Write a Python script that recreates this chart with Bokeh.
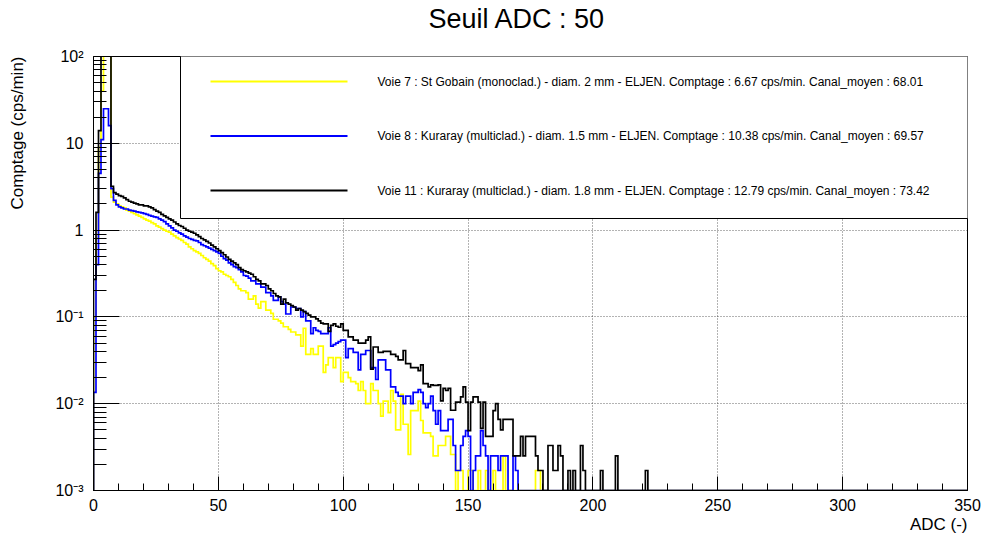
import math
from bokeh.plotting import figure
from bokeh.models import (FixedTicker, SingleIntervalTicker, CustomJSTickFormatter,
                          Label, BoxAnnotation, Range1d, Title)
from bokeh.embed import file_html
from bokeh.resources import INLINE

TITLE = "Seuil ADC : 50"
X_LABEL = "ADC (-)"
Y_LABEL = "Comptage (cps/min)"
X_RANGE = (0, 350)
Y_RANGE = (1e-3, 1e2)
BIN_WIDTH = 1
X_TICK_STEP = 50
Y_TICKS = [1e-3, 1e-2, 1e-1, 1, 10, 100]
Y_TICK_LABELS = ["10⁻³", "10⁻²", "10⁻¹", "1", "10", "10²"]

SERIES_NAMES = [
    "Voie 7 : St Gobain (monoclad.) - diam. 2 mm - ELJEN. Comptage : 6.67 cps/min. Canal_moyen : 68.01",
    "Voie 8 : Kuraray (multiclad.) - diam. 1.5 mm - ELJEN. Comptage : 10.38 cps/min. Canal_moyen : 69.57",
    "Voie 11 : Kuraray (multiclad.) - diam. 1.8 mm - ELJEN. Comptage : 12.79 cps/min. Canal_moyen : 73.42",
]
SERIES_COLORS = ["#ffff00", "#0000ff", "#000000"]

# counts per 1-ADC bin (cps/min), bins starting at ADC 0
voie7 = [
    0.1, 0.8, 9, 40, 300, 300, 150, 2.4, 2.1, 2.0,
    1.9, 1.85, 1.8, 1.7, 1.65, 1.6, 1.55, 1.5, 1.45, 1.4,
    1.35, 1.3, 1.27, 1.22, 1.18, 1.12, 1.08, 1.04, 1.0, 0.97,
    0.95, 0.9, 0.86, 0.82, 0.79, 0.76, 0.72, 0.69, 0.64, 0.61,
    0.58, 0.56, 0.54, 0.51, 0.48, 0.46, 0.44, 0.41, 0.39, 0.36,
    0.34, 0.33, 0.31, 0.30, 0.29, 0.27, 0.25, 0.23, 0.21, 0.2,
    0.20, 0.19, 0.16, 0.16, 0.175, 0.14, 0.126, 0.15, 0.15, 0.12,
    0.12, 0.11, 0.094, 0.094, 0.09, 0.085, 0.077, 0.077, 0.072, 0.067,
    0.067, 0.062, 0.062, 0.046, 0.074, 0.037, 0.037, 0.043, 0.037, 0.037,
    0.046, 0.046, 0.023, 0.028, 0.034, 0.034, 0.026, 0.034, 0.034, 0.018,
    0.023, 0.023, 0.02, 0.018, 0.018, 0.017, 0.0142, 0.018, 0.0142, 0.01,
    0.01, 0.017, 0.0142, 0.0142, 0.01, 0.0072, 0.0107, 0.0107, 0.0079, 0.0142,
    0.0107, 0.005, 0.005, 0.0128, 0.0058, 0.0058, 0.0026, 0.0083, 0.0083, 0.0083,
    0.0107, 0.0064, 0.0046, 0.0046, 0.0046, 0.0042, 0.0025, 0.0025, 0.0033, 0.0033,
    0.0033, 0.0042, 0.0042, 0.0026, 0.0026, 0, 0.0017, 0.0017, 0, 0,
    0.0017, 0.0017, 0, 0, 0.0017, 0, 0, 0.0017, 0, 0,
    0.0017, 0, 0, 0, 0.0025, 0, 0, 0, 0, 0,
    0, 0, 0, 0, 0, 0, 0, 0.0017, 0.0017, 0,
]

voie8 = [
    0.0135, 0.4, 4.5, 11, 25, 25, 16, 3.0, 2.2, 1.95,
    1.85, 1.8, 1.75, 1.75, 1.7, 1.68, 1.65, 1.62, 1.6, 1.58,
    1.55, 1.52, 1.48, 1.45, 1.42, 1.4, 1.35, 1.3, 1.25, 1.18,
    1.12, 1.06, 1.0, 0.97, 0.93, 0.9, 0.86, 0.83, 0.8, 0.78,
    0.76, 0.75, 0.72, 0.68, 0.66, 0.64, 0.62, 0.6, 0.58, 0.56,
    0.54, 0.50, 0.47, 0.45, 0.42, 0.40, 0.38, 0.37, 0.35, 0.33,
    0.30, 0.295, 0.28, 0.26, 0.26, 0.24, 0.24, 0.22, 0.22, 0.19,
    0.19, 0.175, 0.155, 0.155, 0.17, 0.15, 0.14, 0.108, 0.108, 0.13,
    0.13, 0.125, 0.125, 0.10, 0.115, 0.09, 0.09, 0.064, 0.075, 0.07,
    0.068, 0.064, 0.064, 0.064, 0.075, 0.046, 0.048, 0.050, 0.052, 0.054,
    0.054, 0.034, 0.043, 0.043, 0.039, 0.039, 0.0245, 0.037, 0.037, 0.041,
    0.041, 0.026, 0.026, 0.019, 0.032, 0.032, 0.032, 0.0245, 0.0245, 0.0156,
    0.0156, 0.0135, 0.0122, 0.0122, 0.010, 0.0122, 0.0122, 0.010, 0.0135, 0.0135,
    0.0145, 0.0135, 0.010, 0.009, 0.010, 0.0122, 0.0083, 0.0058, 0.0083, 0.0049,
    0.0049, 0.0049, 0.0066, 0.0066, 0.0033, 0.0017, 0.0017, 0.0033, 0.0042, 0.0049,
    0.0042, 0, 0.0017, 0.0025, 0.0025, 0.0049, 0.0033, 0.0025, 0, 0.0025,
    0.0025, 0.0025, 0.0017, 0.0025, 0.0025, 0.0025, 0, 0, 0.0025, 0.0017,
]

voie11 = [
    0.27, 1.6, 14, 160, 260, 230, 130, 3.2, 2.7, 2.6,
    2.5, 2.45, 2.35, 2.25, 2.15, 2.1, 2.05, 2.0, 1.95, 1.95,
    1.9, 1.9, 1.85, 1.8, 1.72, 1.65, 1.6, 1.52, 1.46, 1.4,
    1.35, 1.3, 1.24, 1.18, 1.13, 1.1, 1.05, 1.0, 0.97, 0.95,
    0.92, 0.88, 0.84, 0.8, 0.77, 0.74, 0.71, 0.67, 0.64, 0.61,
    0.58, 0.55, 0.52, 0.49, 0.46, 0.44, 0.42, 0.40, 0.37, 0.35,
    0.34, 0.33, 0.32, 0.31, 0.29, 0.27, 0.26, 0.24, 0.24, 0.23,
    0.21, 0.20, 0.186, 0.175, 0.17, 0.14, 0.16, 0.145, 0.14, 0.135,
    0.13, 0.12, 0.125, 0.12, 0.115, 0.11, 0.105, 0.10, 0.10, 0.095,
    0.09, 0.085, 0.083, 0.083, 0.068, 0.08, 0.083, 0.078, 0.076, 0.083,
    0.070, 0.070, 0.059, 0.059, 0.054, 0.054, 0.050, 0.050, 0.050, 0.054,
    0.059, 0.025, 0.045, 0.045, 0.039, 0.039, 0.040, 0.040, 0.040, 0.037,
    0.037, 0.035, 0.032, 0.032, 0.041, 0.029, 0.029, 0.026, 0.026, 0.026,
    0.024, 0.028, 0.017, 0.017, 0.0156, 0.0165, 0.0163, 0.0163, 0.0165, 0.0108,
    0.015, 0.0142, 0.015, 0.0084, 0.0084, 0.0104, 0.0104, 0.012, 0.0156, 0.0104,
    0.0049, 0.0104, 0.012, 0.012, 0.0104, 0.0052, 0.0104, 0.0042, 0.0042, 0.0042,
    0.0083, 0.01, 0.0066, 0.005, 0.0066, 0.0066, 0.0066, 0.0066, 0.0025, 0.0025,
    0.0025, 0.0042, 0.0025, 0.0042, 0.0042, 0.0042, 0.0042, 0.0025, 0.0017, 0.0017,
    0, 0, 0.0033, 0.0033, 0.0017, 0.0017, 0.0033, 0.0025, 0, 0,
    0.0017, 0, 0.0017, 0, 0, 0.0033, 0.0017, 0, 0, 0,
    0, 0, 0, 0.0017, 0, 0, 0, 0, 0, 0.0025,
    0, 0, 0, 0, 0, 0, 0, 0, 0, 0,
    0, 0.0017, 0, 0, 0,
]

SERIES = [voie7, voie8, voie11]

FONT = "Liberation Sans"

p = figure(width=984, height=536, title=None,
           x_range=Range1d(*X_RANGE), y_range=Range1d(*Y_RANGE),
           y_axis_type="log", output_backend="svg", toolbar_location=None,
           min_border_left=93, min_border_right=17, min_border_top=56, min_border_bottom=46)
p.background_fill_color = "white"
p.border_fill_color = "white"
p.outline_line_color = "black"
p.outline_line_width = 1


def text_title(text, size, align, offset=0, standoff=0, valign="middle"):
    return Title(text=text, text_font=FONT, text_font_size=size, text_font_style="normal",
                 text_color="black", align=align, offset=offset, standoff=standoff,
                 vertical_align=valign)


# top: spacer next to the frame, then the title
p.add_layout(text_title(" ", "10px", "left", standoff=9), "above")
p.add_layout(text_title(TITLE, "27px", "left", offset=335), "above")
# left: spacer next to the axis, then the y title
p.add_layout(text_title(" ", "10px", "right", standoff=12), "left")
p.add_layout(text_title(Y_LABEL, "17px", "right"), "left")
# bottom: x title under the tick labels
p.add_layout(text_title(X_LABEL, "17px", "right"), "below")


def step_path(vals):
    floor = Y_RANGE[0]
    xs, ys = [X_RANGE[0]], [floor]
    for i, v in enumerate(vals):
        y = v if v > floor else floor
        xs += [i * BIN_WIDTH, (i + 1) * BIN_WIDTH]
        ys += [y, y]
    xs += [len(vals) * BIN_WIDTH, X_RANGE[1]]
    ys += [floor, floor]
    return xs, ys


for vals, col in zip(SERIES, SERIES_COLORS):
    xs, ys = step_path(vals)
    p.line(xs, ys, line_color=col, line_width=1.7, line_join="miter")

# axes
xt = SingleIntervalTicker(interval=X_TICK_STEP, num_minor_ticks=5)
p.xaxis.ticker = xt
p.xgrid.ticker = xt
y_minor = [m * 10.0 ** k for k in range(int(math.log10(Y_RANGE[0])), int(math.log10(Y_RANGE[1]))) for m in range(2, 10)]
yt = FixedTicker(ticks=Y_TICKS, minor_ticks=y_minor)
p.yaxis.ticker = yt
p.ygrid.ticker = FixedTicker(ticks=Y_TICKS)
p.yaxis.formatter = CustomJSTickFormatter(args=dict(tick_vals=Y_TICKS, tick_labels=Y_TICK_LABELS), code="""
let out = "";
for (let k = 0; k < tick_vals.length; k++) {
  if (Math.abs(Math.log10(tick_vals[k]) - Math.log10(tick)) < 1e-6) { out = tick_labels[k]; }
}
return out;
""")

for ax in (p.xaxis[0], p.yaxis[0]):
    ax.axis_line_color = "black"
    ax.major_tick_line_color = "black"
    ax.minor_tick_line_color = "black"
    ax.major_tick_out = 0
    ax.minor_tick_out = 0
    ax.major_label_text_font = FONT
    ax.major_label_text_font_size = "16px"
    ax.major_label_text_color = "black"
p.xaxis.major_tick_in = 14
p.xaxis.minor_tick_in = 7
p.xaxis.major_label_standoff = 8
p.yaxis.major_tick_in = 26
p.yaxis.minor_tick_in = 13
p.yaxis.major_label_standoff = 10

for g in (p.xgrid[0], p.ygrid[0]):
    g.grid_line_color = "#000000"
    g.grid_line_alpha = 0.6
    g.grid_line_dash = "1 2"
    g.grid_line_width = 1

# legend (screen units relative to the frame's bottom-left corner)
p.add_layout(BoxAnnotation(left=87, right=882, bottom=272, top=436,
                           left_units="screen", right_units="screen",
                           bottom_units="screen", top_units="screen",
                           fill_color="white", fill_alpha=1.0,
                           line_color="black", line_width=1, line_alpha=1.0))
row_y = [409, 354.5, 300]
for name, col, ry in zip(SERIES_NAMES, SERIES_COLORS, row_y):
    p.add_layout(BoxAnnotation(left=117, right=254, bottom=ry - 1, top=ry + 1,
                               left_units="screen", right_units="screen",
                               bottom_units="screen", top_units="screen",
                               fill_color=col, fill_alpha=1.0, line_alpha=0))
    p.add_layout(Label(x=284, y=ry, x_units="screen", y_units="screen", text=name,
                       text_font=FONT, text_font_size="12px", text_align="left",
                       text_baseline="middle", text_color="black"))

with open("out.html", "w") as f:
    f.write(file_html(p, INLINE))
